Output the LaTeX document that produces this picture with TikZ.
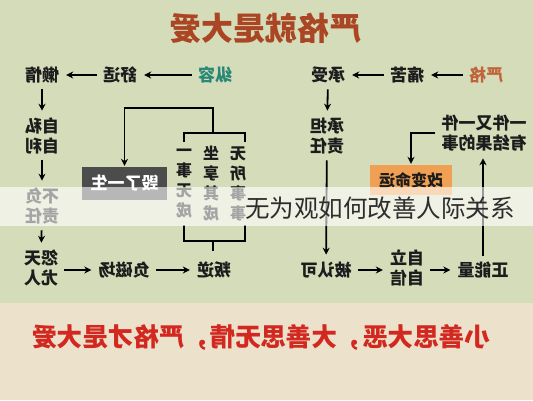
\documentclass[tikz,border=0pt]{standalone}
\usepackage{fontspec}
\setmainfont{Noto Sans CJK SC}
\usetikzlibrary{arrows.meta}
\newcommand\rf[1]{\reflectbox{#1}}
\definecolor{bgtop}{RGB}{213,220,186}
\definecolor{bgbot}{RGB}{236,226,204}
\definecolor{titlec}{RGB}{170,70,36}
\definecolor{tealc}{RGB}{40,136,118}
\definecolor{orangec}{RGB}{192,100,58}
\definecolor{txtc}{RGB}{28,28,28}
\definecolor{boxgray}{RGB}{76,76,76}
\definecolor{boxorange}{RGB}{240,160,82}
\definecolor{redc}{RGB}{210,40,32}
\definecolor{ovc}{RGB}{45,45,45}
\begin{document}
\begin{tikzpicture}[x=1pt,y=-1pt,
  txt/.style={font=\fontsize{17}{20}\selectfont\bfseries, text=txtc, inner sep=2pt, align=center},
  col/.style={font=\fontsize{16}{20}\selectfont\bfseries, text=txtc, inner sep=0pt, align=center},
  arr/.style={draw=black, line width=1.8pt, -{Stealth[length=7pt,width=7pt]}, shorten >=5pt, shorten <=4pt},
  ln/.style={draw=black, line width=1.6pt}]
\useasboundingbox (0,0) rectangle (533,400);
\fill[bgtop] (0,0) rectangle (533,303);
\fill[bgbot] (0,303) rectangle (533,400);

% title
\node[font=\fontsize{32}{34}\selectfont\bfseries, text=titlec] (title) at (265,28) {\rf{严格就是大爱}};

% left flow
\node[txt,text=tealc] (zr) at (215,75) {\rf{纵容}};
\node[txt] (sy) at (120,75) {\rf{舒适}};
\node[txt] (ld) at (42,75) {\rf{懒惰}};
\node[txt] (zs) at (42,136) {\rf{自私}\\\rf{自利}};
\node[txt] (bf) at (42,206) {\rf{不负}\\\rf{责任}};
\node[txt] (yt) at (41,268) {\rf{怨天}\\\rf{尤人}};
\node[txt] (fc) at (124,270) {\rf{负磁场}};
\node[txt] (pn) at (214,270) {\rf{叛逆}};
\draw[arr] (zr) -- (sy);
\draw[arr] (sy) -- (ld);
\draw[arr] (ld) -- (zs);
\draw[arr] (zs) -- (bf);
\draw[arr] (bf) -- (yt);
\draw[arr] (yt.east |- fc) -- (fc);
\draw[arr] (fc) -- (pn);

% columns
\node[col] (c1) at (238,184) {\rf{无}\\\rf{所}\\\rf{事}\\\rf{事}};
\node[col] (c2) at (211,184) {\rf{坐}\\\rf{享}\\\rf{其}\\\rf{成}};
\node[col] (c3) at (184,184) {\rf{一}\\\rf{事}\\\rf{无}\\\rf{成}};
\coordinate (tb) at (213,133);
\coordinate (bb) at (213,241);
\draw[ln] (184,142) -- (184,133) -- (245,133) -- (245,142);
\draw[ln] (184,225) -- (184,241) -- (245,241) -- (245,225);
\draw[ln] (bb) -- (213,251);
\node[fill=boxgray, text=white, font=\fontsize{17}{20}\selectfont\bfseries, minimum width=85pt, minimum height=33pt, inner sep=0pt] (hl) at (124.5,183.5) {\rf{毁了一生}};
\draw[arr, shorten <=0pt, shorten >=1pt] (tb) -- (213,108) -| (hl);

% right flow
\node[txt,text=orangec] (yg) at (486,75) {\rf{严格}};
\node[txt] (tk) at (407,75) {\rf{痛苦}};
\node[txt] (cs) at (328,75) {\rf{承受}};
\node[txt] (cd) at (327,136) {\rf{承担}\\\rf{责任}};
\node[txt] (br) at (326,270) {\rf{被认可}};
\node[txt] (zl) at (407,268) {\rf{自立}\\\rf{自信}};
\node[txt] (zn) at (483,270) {\rf{正能量}};
\node[txt] (yj) at (484,133) {\rf{一件又一件}\\\rf{有结果的事}};
\node[fill=boxorange, text=txtc, font=\fontsize{16}{20}\selectfont\bfseries, minimum width=82pt, minimum height=30pt, inner sep=0pt] (gb) at (411,180) {\rf{改变命运}};
\draw[arr] (yg) -- (tk);
\draw[arr] (tk) -- (cs);
\draw[arr] (cs) -- (cd);
\draw[arr] (cd) -- (br);
\draw[arr] (br) -- (br -| zl.west);
\draw[arr] (zl.east |- zn) -- (zn);
\draw[arr] (zn.north) -- (zn.north |- yj.south);
\draw[arr, shorten >=1pt] (yj.west) -| (gb);

% overlay band
\fill[white, opacity=0.6] (0,187) rectangle (533,226);
\node[anchor=west, font=\fontsize{24.5}{25}\selectfont, text=ovc, inner sep=0pt] (ov) at (245,208) {无为观如何改善人际关系};

% bottom text
\node[font=\fontsize{25.5}{26}\selectfont\bfseries, text=redc] (bt) at (261,338) {\rf{小善思大恶，大善思无情，严格才是大爱}};
\end{tikzpicture}
\end{document}
